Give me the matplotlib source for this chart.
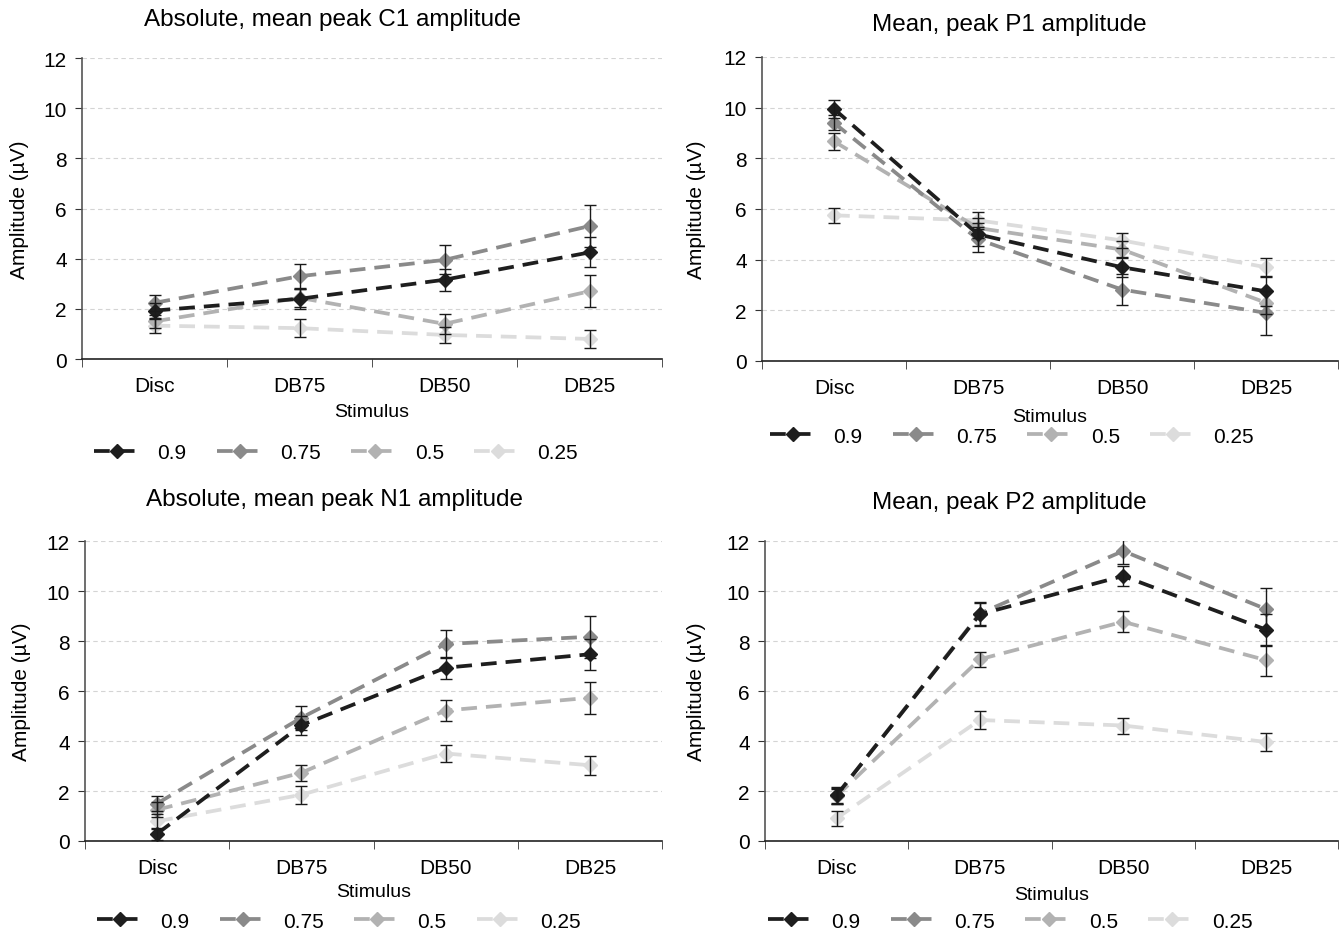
import matplotlib
matplotlib.use("Agg")
import matplotlib.pyplot as plt

plt.rcParams["font.family"] = ["Liberation Sans", "DejaVu Sans"]

# Dados
stimuli = ["Disc", "DB75", "DB50", "DB25"]
levels = ["0.9", "0.75", "0.5", "0.25"]
colors = ["#1e1e1e", "#8a8a8a", "#b2b2b2", "#dcdcdc"]

c1_mean = [[1.93, 2.40, 3.16, 4.25],
           [2.24, 3.30, 3.95, 5.30],
           [1.50, 2.44, 1.40, 2.70],
           [1.33, 1.23, 0.96, 0.80]]
c1_err = [[0.30, 0.40, 0.43, 0.60],
          [0.33, 0.47, 0.58, 0.85],
          [0.25, 0.35, 0.40, 0.63],
          [0.28, 0.37, 0.32, 0.35]]

p1_mean = [[9.95, 5.00, 3.70, 2.75],
           [9.40, 4.80, 2.82, 1.90],
           [8.67, 5.25, 4.40, 2.30],
           [5.75, 5.55, 4.76, 3.70]]
p1_err = [[0.35, 0.45, 0.40, 0.56],
          [0.30, 0.50, 0.60, 0.86],
          [0.33, 0.40, 0.35, 0.45],
          [0.30, 0.35, 0.30, 0.35]]

n1_mean = [[0.29, 4.63, 6.93, 7.47],
           [1.50, 4.93, 7.88, 8.17],
           [1.25, 2.73, 5.22, 5.73],
           [0.79, 1.85, 3.50, 3.03]]
n1_err = [[0.25, 0.37, 0.44, 0.62],
          [0.30, 0.47, 0.55, 0.85],
          [0.30, 0.33, 0.42, 0.63],
          [0.30, 0.35, 0.33, 0.37]]

p2_mean = [[1.83, 9.07, 10.60, 8.45],
           [1.83, 9.10, 11.60, 9.27],
           [1.80, 7.27, 8.77, 7.23],
           [0.91, 4.84, 4.62, 3.96]]
p2_err = [[0.33, 0.45, 0.40, 0.64],
          [0.30, 0.45, 0.50, 0.87],
          [0.30, 0.30, 0.42, 0.63],
          [0.30, 0.36, 0.32, 0.35]]

titles = ["Absolute, mean peak C1 amplitude", "Mean, peak P1 amplitude",
          "Absolute, mean peak N1 amplitude", "Mean, peak P2 amplitude"]

# Layout (pixels): left, right, top, bottom
W, H = 1341, 937
boxes = [(82, 662, 59, 360), (762, 1338, 58, 362),
         (85, 662, 542, 842), (765, 1338, 542, 842)]
title_pos = [(332, 20), (1009, 25), (335, 500), (1009, 503)]
ylab_x = [20, 697, 22, 697]
stim_y = [-0.176, -0.181, -0.167, -0.177]
leg_pos = [(0.438, -0.312), (0.434, -0.247), (0.44, -0.267), (0.428, -0.267)]

panels = [(c1_mean, c1_err), (p1_mean, p1_err), (n1_mean, n1_err), (p2_mean, p2_err)]

fig = plt.figure(figsize=(W / 100, H / 100), dpi=100)
x = list(range(len(stimuli)))

for k, (means, errs) in enumerate(panels):
    l, r, t, b = boxes[k]
    ax = fig.add_axes([l / W, 1 - b / H, (r - l) / W, (b - t) / H])
    for i in range(len(levels)):
        ax.plot(x, means[i], color=colors[i], linewidth=2.7, dashes=(4.2, 2.4),
                marker="D", markersize=7.5, label=levels[i], zorder=2 + (4 - i) * 0.1)
        ax.errorbar(x, means[i], yerr=errs[i], fmt="none", ecolor="#1a1a1a",
                    elinewidth=1.0, capsize=4, capthick=1.0, zorder=3)
    ax.set_xlim(-0.5, 3.5)
    ax.set_ylim(0, 12)
    ax.set_yticks(range(0, 13, 2))
    ax.set_xticks(x)
    ax.set_xticklabels(stimuli)
    ax.set_xticks([-0.5, 0.5, 1.5, 2.5, 3.5], minor=True)
    ax.tick_params(axis="x", which="major", length=0, labelsize=15, pad=12)
    ax.tick_params(axis="x", which="minor", length=6, direction="out", color="#333333")
    ax.tick_params(axis="y", length=5, labelsize=15, color="#333333", pad=6)
    ax.grid(axis="y", color="#d4d4d4", linestyle=(0, (4, 3)), linewidth=0.8)
    ax.set_axisbelow(True)
    for s in ["top", "right"]:
        ax.spines[s].set_visible(False)
    ax.spines["left"].set_color("#555555")
    ax.spines["bottom"].set_color("#222222")
    ax.spines["left"].set_linewidth(1.2)
    ax.spines["bottom"].set_linewidth(1.2)
    ax.text(0.5, stim_y[k], "Stimulus", transform=ax.transAxes, ha="center",
            va="center", fontsize=14)
    ax.legend(loc="center", bbox_to_anchor=leg_pos[k], ncol=4, frameon=False,
              fontsize=15, handlelength=2.25, columnspacing=1.45, handletextpad=0.8)
    fig.text(title_pos[k][0] / W, 1 - title_pos[k][1] / H, titles[k],
             ha="center", va="center", fontsize=17.5)
    fig.text(ylab_x[k] / W, 1 - (t + b) / 2 / H, "Amplitude (µV)", rotation=90,
             ha="center", va="center", fontsize=15)

fig.savefig("out.png", dpi=100)
